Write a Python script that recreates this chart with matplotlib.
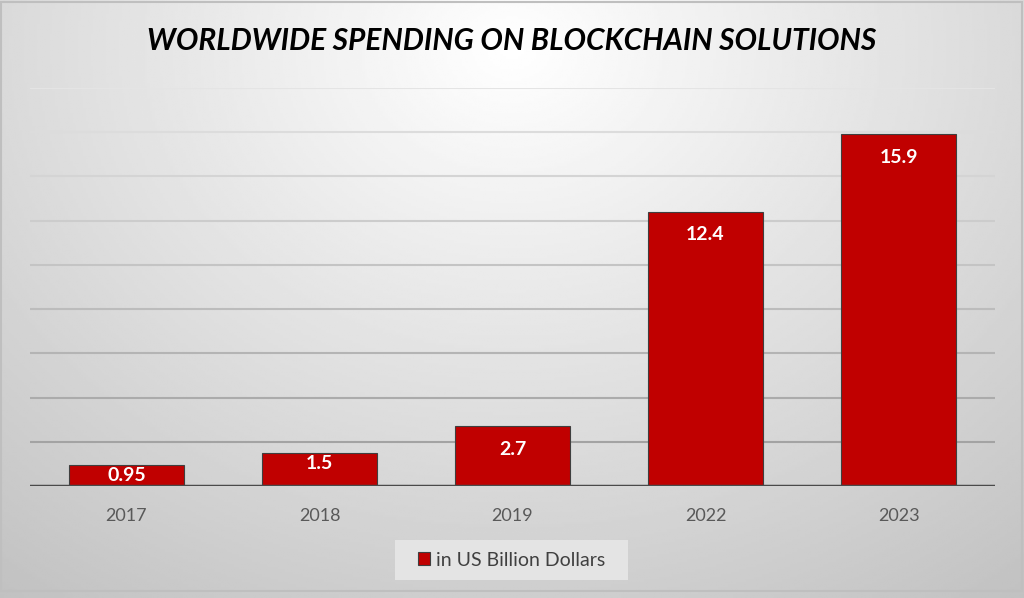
import numpy as np
import matplotlib.pyplot as plt
from matplotlib.patches import Rectangle

# 数据
years = ["2017", "2018", "2019", "2022", "2023"]
spending = [0.95, 1.5, 2.7, 12.4, 15.9]
series_name = "in US Billion Dollars"
title = "WORLDWIDE SPENDING ON BLOCKCHAIN SOLUTIONS"

plt.rcParams["font.family"] = ["Lato", "DejaVu Sans"]

fig = plt.figure(figsize=(10.24, 5.98), dpi=100)

# 背景渐变
bg = fig.add_axes([0, 0, 1, 1])
gx, gy = np.meshgrid(np.linspace(0, 1, 400), np.linspace(0, 1, 240))
r = np.sqrt(((gx - 0.5) / 0.75) ** 2 + ((gy - 0.08) / 1.05) ** 2)
shade = np.clip(1.0 - 0.22 * r, 0.74, 1.0)
bg.imshow(shade, cmap="gray", vmin=0, vmax=1, extent=[0, 1, 0, 1],
          aspect="auto", origin="upper")
bg.add_patch(Rectangle((0.001, 0.012), 0.997, 0.985, fill=False,
                       edgecolor="#BFBFBF", linewidth=1.5))
# 图例底框
bg.add_patch(Rectangle((395 / 1024, 1 - 580 / 598), 233 / 1024, 40 / 598,
                       facecolor="#E4E4E4", edgecolor="none"))
bg.set_xlim(0, 1)
bg.set_ylim(0, 1)
bg.axis("off")

ax = fig.add_axes([0.0293, 0.1873, 0.9424, 0.6655])
ax.patch.set_alpha(0)

x = np.arange(len(years))
bars = ax.bar(x, spending, width=0.6, color="#C00000",
              edgecolor="#3F3F3F", linewidth=0.8, zorder=3)

ax.set_xlim(-0.5, len(years) - 0.5)
ax.set_ylim(0, 18)

# 网格线，越往上越淡
for i, yv in enumerate(np.arange(2, 19, 2)):
    c = 0.64 + 0.032 * i
    ax.axhline(yv, color=(c, c, c), linewidth=1.5, zorder=1)
ax.axhline(0, color="#4A4A4A", linewidth=2.5, zorder=4)

for s in ax.spines.values():
    s.set_visible(False)
ax.tick_params(axis="y", left=False, labelleft=False)
ax.tick_params(axis="x", bottom=False, labelsize=13, labelcolor="#595959", pad=12)
ax.set_xticks(x)
ax.set_xticklabels(years)

# 数据标签：放在柱顶内侧，柱子太矮时居中
px_per_unit = 398 / 18
for rect, v in zip(bars, spending):
    h_px = v * px_per_unit
    off = 23 if h_px >= 50 else min(10.5, h_px / 2)
    ax.annotate(f"{v:g}", (rect.get_x() + rect.get_width() / 2, v),
                xytext=(0, -off * 0.72), textcoords="offset points",
                ha="center", va="center", color="white",
                fontsize=14, fontweight="bold", zorder=5)

fig.text(0.5, 0.932, title, ha="center", va="center", fontsize=21.5,
         fontweight="bold", style="italic", color="black")

leg = fig.legend([bars[0]], [series_name], loc="center",
                 bbox_to_anchor=(511.5 / 1024, 1 - 560 / 598), frameon=False,
                 fontsize=14, handlelength=0.65, handleheight=0.65,
                 handletextpad=0.3)
for t in leg.get_texts():
    t.set_color("#404040")

fig.savefig("out.png", dpi=100)
